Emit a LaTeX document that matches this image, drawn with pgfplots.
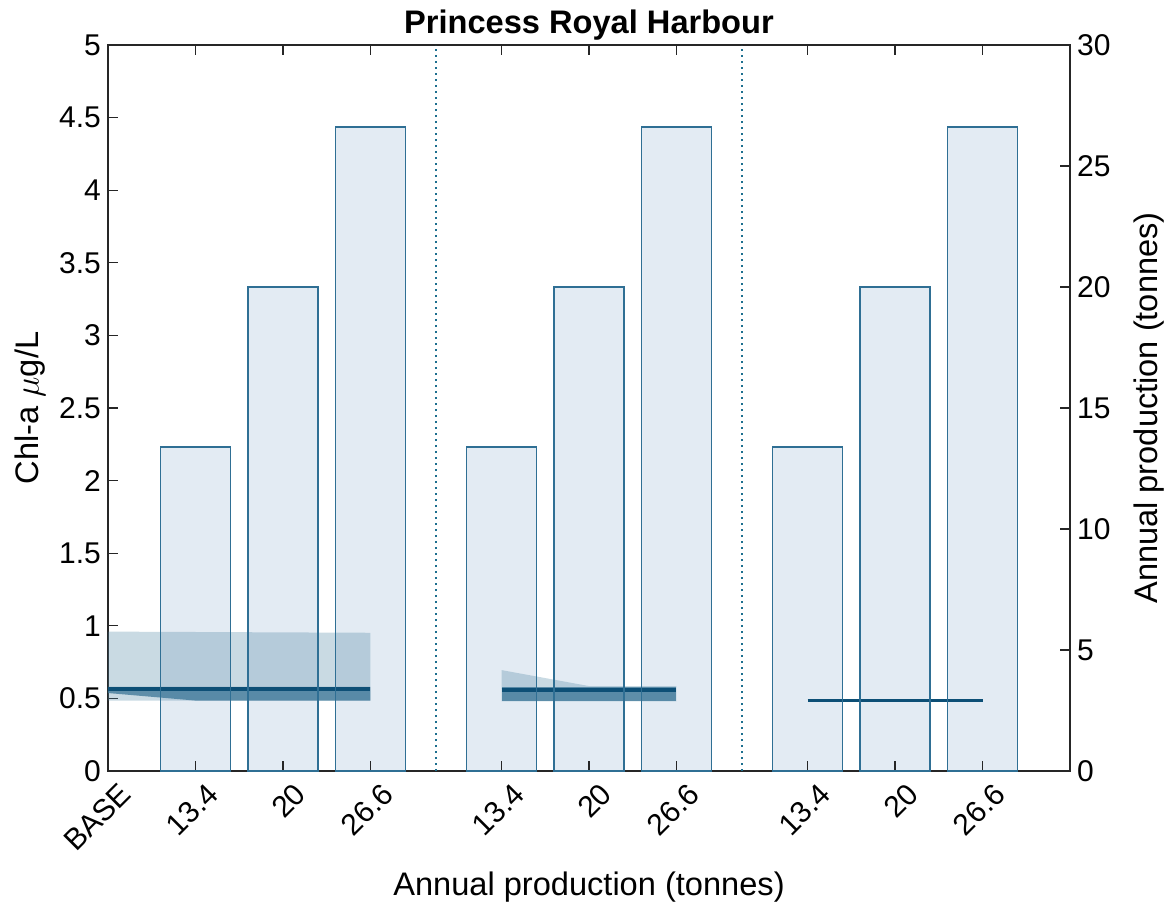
\documentclass[border=0pt]{standalone}
\usepackage{pgfplots}
\pgfplotsset{compat=1.18}
\usepackage{fontspec}
\setmainfont{Liberation Sans}

\definecolor{barfill}{HTML}{E3EBF3}
\definecolor{baredge}{HTML}{2F6F94}
\definecolor{band}{HTML}{4B84A2}
\definecolor{bandmid}{HTML}{3A7596}
\definecolor{medline}{HTML}{0D4F76}
\definecolor{divider}{HTML}{1D6F8F}
\definecolor{axisgray}{HTML}{262626}

% Annual production (tonnes) for each scenario bar
\pgfplotstableread{
x    prod
1    13.4
2    20
3    26.6
4.5  13.4
5.5  20
6.5  26.6
8    13.4
9    20
10   26.6
}\prodtable

\pgfplotsset{
  common/.style={
    scale only axis, width=481pt, height=363pt,
    xmin=0, xmax=11,
    tick align=inside,
    major tick length=5pt,
    axis line style={axisgray, line width=0.6pt},
    every tick/.style={axisgray, line width=0.6pt},
    tick label style={font=\fontsize{15}{17}\selectfont},
    label style={font=\fontsize{16.3}{19}\selectfont},
    /pgf/number format/assume math mode=true,
  },
}

\begin{document}
\begin{tikzpicture}
\useasboundingbox (-54pt,-67.5pt) rectangle (532.5pt,385.5pt);
% right axis: production bars
\begin{axis}[common,
  ymin=0, ymax=30, ytick={0,5,...,30},
  axis y line*=right, hide x axis,
  ylabel={Annual production (tonnes)},
  ylabel style={at={(axis description cs:1.082,0.5)}, anchor=center, rotate=0},
]
\addplot[ybar, bar width=0.8, bar shift=0pt, fill=barfill, draw=none]
  table[x=x, y=prod] {\prodtable};
\end{axis}

% left axis: chlorophyll-a envelopes and medians
\begin{axis}[common,
  ymin=0, ymax=5, ytick={0,0.5,...,5},
  yticklabels={0,0.5,1,1.5,2,2.5,3,3.5,4,4.5,5},
  ytick pos=left,
  xtick={0,1,2,3,4.5,5.5,6.5,8,9,10},
  xticklabels={BASE,13.4,20,26.6,13.4,20,26.6,13.4,20,26.6},
  xtick pos=both,
  x tick label style={rotate=45, anchor=north east, inner sep=2pt, yshift=-5pt, xshift=2pt},
  xlabel={Annual production (tonnes)},
  xlabel style={at={(axis description cs:0.5,-0.16)}, anchor=center},
  ylabel={Chl-a $\mu$g/L},
  ylabel style={at={(axis description cs:-0.081,0.5)}, anchor=center},
  title={\textbf{Princess Royal Harbour}},
  title style={font=\fontsize{16.3}{19}\selectfont, at={(axis description cs:0.5,1.0275)}, anchor=center, yshift=-6pt},
]
% range envelopes
\addplot[fill=band, fill opacity=0.3, draw=none]
  coordinates {(0,0.485) (3,0.485) (3,0.952) (0,0.960)} --cycle;
\addplot[fill=bandmid, fill opacity=0.75, draw=none]
  coordinates {(0,0.537) (1,0.485) (3,0.485) (3,0.58) (0,0.58)} --cycle;
\addplot[fill=band, fill opacity=0.3, draw=none]
  coordinates {(4.5,0.48) (6.5,0.48) (6.5,0.585) (5.5,0.585) (4.5,0.695)} --cycle;
\addplot[fill=bandmid, fill opacity=0.75, draw=none]
  coordinates {(4.5,0.482) (6.5,0.482) (6.5,0.58) (4.5,0.58)} --cycle;
% medians
\addplot[medline, line width=1.6pt] coordinates {(0,0.565) (3,0.565)};
\addplot[medline, line width=1.6pt] coordinates {(4.5,0.558) (6.5,0.558)};
\addplot[medline, line width=1.4pt] coordinates {(8,0.484) (10,0.484)};
% scenario dividers
\addplot[divider, line width=1pt, dash pattern=on 1.2pt off 1.8pt] coordinates {(3.75,0) (3.75,5)};
\addplot[divider, line width=1pt, dash pattern=on 1.2pt off 1.8pt] coordinates {(7.25,0) (7.25,5)};
\end{axis}

% bar outlines on top
\begin{axis}[common, ymin=0, ymax=30, hide axis]
\addplot[ybar, bar width=0.8, bar shift=0pt, fill=none, draw=baredge, line width=0.8pt]
  table[x=x, y=prod] {\prodtable};
\end{axis}
\end{tikzpicture}
\end{document}
